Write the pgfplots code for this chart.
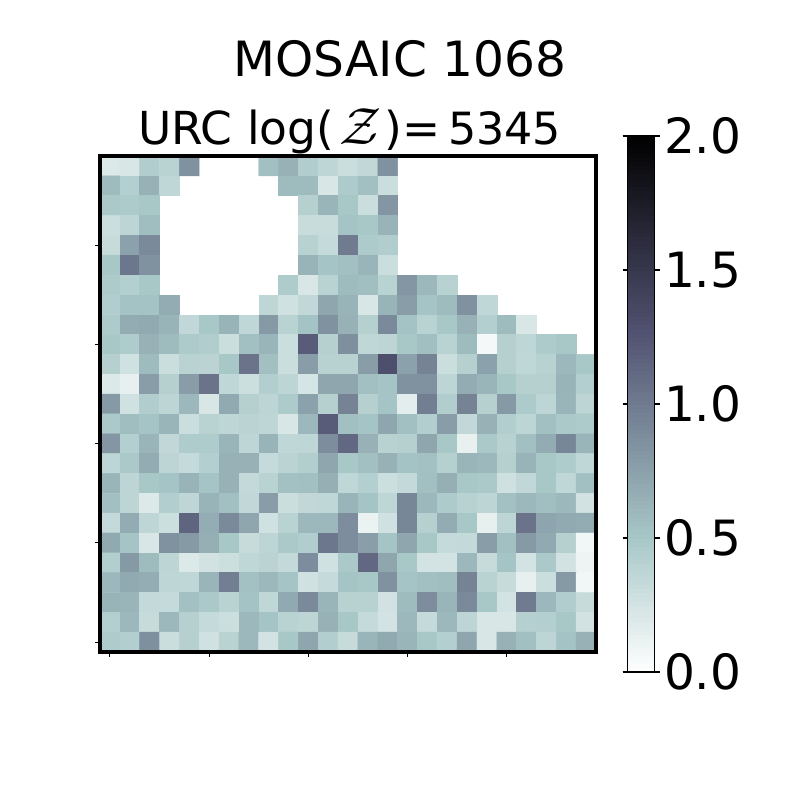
\documentclass[border=0pt]{standalone}
\usepackage{fix-cm}
\usepackage{fontspec}
\setmainfont{DejaVu Sans}
\usepackage{pgfplots}
\pgfplotsset{compat=1.18}
\pgfplotsset{colormap={boner}{
 rgb(0)=(1,1,1);
 rgb(0.253968)=(0.652778,0.777778,0.777778);
 rgb(0.634921)=(0.319444,0.319444,0.444444);
 rgb(1)=(0,0,0)}}
\newcommand{\bigf}{\fontsize{48.6}{58}\selectfont}
\newcommand{\subf}{\fontsize{45.5}{54}\selectfont}
\newcommand{\numf}{\fontsize{44.4}{53}\selectfont}
\begin{document}
\begin{tikzpicture}
\useasboundingbox (0pt,0pt) rectangle (800pt,800pt);
\begin{axis}[
 at={(100pt,148pt)},anchor=south west,
 scale only axis,width=496pt,height=496pt,
 xmin=-0.5,xmax=24.5,ymin=-0.5,ymax=24.5,
 axis on top,
 axis line style={line width=4pt},
 tick align=outside,tick pos=left,
 major tick length=5pt,
 tick style={black,line width=1.1pt},
 xtick={0,5,10,15,20},ytick={0,5,10,15,20},
 xticklabels={},yticklabels={},
 colormap name=boner,
 point meta min=0,point meta max=2,
 colorbar sampled,
 colorbar style={
   at={(1.0635,-0.0403)},anchor=south west,
   width=27pt,height=536pt,
   samples=129,
   ytick={0,0.5,1,1.5,2},
   yticklabels={0.0,0.5,1.0,1.5,2.0},
   yticklabel style={font=\bigf,xshift=1pt},
   axis line style={line width=1.1pt},
   major tick length=5pt,
   tick style={black,line width=1.1pt},
   tick align=outside,
 },
]
\addplot[matrix plot*,point meta=explicit,mesh/cols=25,mesh/ordering=x varies,unbounded coords=jump] coordinates {
(0,24)[.2] (1,24)[.22] (2,24)[.45] (3,24)[.4] (4,24)[.85] (5,24)[nan] (6,24)[nan] (7,24)[nan] (8,24)[.55] (9,24)[.65] (10,24)[.45] (11,24)[.37] (12,24)[.3] (13,24)[.35] (14,24)[.85] (15,24)[nan] (16,24)[nan] (17,24)[nan] (18,24)[nan] (19,24)[nan] (20,24)[nan] (21,24)[nan] (22,24)[nan] (23,24)[nan] (24,24)[nan]
(0,23)[.58] (1,23)[.43] (2,23)[.65] (3,23)[.36] (4,23)[nan] (5,23)[nan] (6,23)[nan] (7,23)[nan] (8,23)[nan] (9,23)[.58] (10,23)[.58] (11,23)[.22] (12,23)[.47] (13,23)[.55] (14,23)[.3] (15,23)[nan] (16,23)[nan] (17,23)[nan] (18,23)[nan] (19,23)[nan] (20,23)[nan] (21,23)[nan] (22,23)[nan] (23,23)[nan] (24,23)[nan]
(0,22)[.48] (1,22)[.47] (2,22)[.5] (3,22)[nan] (4,22)[nan] (5,22)[nan] (6,22)[nan] (7,22)[nan] (8,22)[nan] (9,22)[nan] (10,22)[.42] (11,22)[.62] (12,22)[.5] (13,22)[.3] (14,22)[.82] (15,22)[nan] (16,22)[nan] (17,22)[nan] (18,22)[nan] (19,22)[nan] (20,22)[nan] (21,22)[nan] (22,22)[nan] (23,22)[nan] (24,22)[nan]
(0,21)[.3] (1,21)[.38] (2,21)[.57] (3,21)[nan] (4,21)[nan] (5,21)[nan] (6,21)[nan] (7,21)[nan] (8,21)[nan] (9,21)[nan] (10,21)[.31] (11,21)[.31] (12,21)[.52] (13,21)[.5] (14,21)[.63] (15,21)[nan] (16,21)[nan] (17,21)[nan] (18,21)[nan] (19,21)[nan] (20,21)[nan] (21,21)[nan] (22,21)[nan] (23,21)[nan] (24,21)[nan]
(0,20)[.32] (1,20)[.75] (2,20)[.9] (3,20)[nan] (4,20)[nan] (5,20)[nan] (6,20)[nan] (7,20)[nan] (8,20)[nan] (9,20)[nan] (10,20)[.41] (11,20)[.33] (12,20)[1.0] (13,20)[.47] (14,20)[.45] (15,20)[nan] (16,20)[nan] (17,20)[nan] (18,20)[nan] (19,20)[nan] (20,20)[nan] (21,20)[nan] (22,20)[nan] (23,20)[nan] (24,20)[nan]
(0,19)[.5] (1,19)[1.03] (2,19)[.85] (3,19)[nan] (4,19)[nan] (5,19)[nan] (6,19)[nan] (7,19)[nan] (8,19)[nan] (9,19)[nan] (10,19)[.63] (11,19)[.52] (12,19)[.55] (13,19)[.62] (14,19)[.3] (15,19)[nan] (16,19)[nan] (17,19)[nan] (18,19)[nan] (19,19)[nan] (20,19)[nan] (21,19)[nan] (22,19)[nan] (23,19)[nan] (24,19)[nan]
(0,18)[.47] (1,18)[.43] (2,18)[.5] (3,18)[nan] (4,18)[nan] (5,18)[nan] (6,18)[nan] (7,18)[nan] (8,18)[nan] (9,18)[.46] (10,18)[.22] (11,18)[.4] (12,18)[.58] (13,18)[.56] (14,18)[.4] (15,18)[.82] (16,18)[.6] (17,18)[.41] (18,18)[nan] (19,18)[nan] (20,18)[nan] (21,18)[nan] (22,18)[nan] (23,18)[nan] (24,18)[nan]
(0,17)[.45] (1,17)[.53] (2,17)[.53] (3,17)[.68] (4,17)[nan] (5,17)[nan] (6,17)[nan] (7,17)[nan] (8,17)[.37] (9,17)[.27] (10,17)[.35] (11,17)[.72] (12,17)[.63] (13,17)[.22] (14,17)[.63] (15,17)[.78] (16,17)[.52] (17,17)[.58] (18,17)[.85] (19,17)[.36] (20,17)[nan] (21,17)[nan] (22,17)[nan] (23,17)[nan] (24,17)[nan]
(0,16)[.47] (1,16)[.68] (2,16)[.7] (3,16)[.63] (4,16)[.35] (5,16)[.5] (6,16)[.63] (7,16)[.36] (8,16)[.8] (9,16)[.4] (10,16)[.53] (11,16)[.85] (12,16)[.65] (13,16)[.42] (14,16)[.9] (15,16)[.53] (16,16)[.4] (17,16)[.5] (18,16)[.65] (19,16)[.43] (20,16)[.58] (21,16)[.22] (22,16)[nan] (23,16)[nan] (24,16)[nan]
(0,15)[.5] (1,15)[.46] (2,15)[.65] (3,15)[.58] (4,15)[.47] (5,15)[.45] (6,15)[.3] (7,15)[.55] (8,15)[.62] (9,15)[.3] (10,15)[1.2] (11,15)[.42] (12,15)[.87] (13,15)[.36] (14,15)[.38] (15,15)[.5] (16,15)[.56] (17,15)[.4] (18,15)[.58] (19,15)[.06] (20,15)[.42] (21,15)[.37] (22,15)[.47] (23,15)[.5] (24,15)[nan]
(0,14)[.42] (1,14)[.27] (2,14)[.58] (3,14)[.3] (4,14)[.4] (5,14)[.39] (6,14)[.5] (7,14)[1.05] (8,14)[.55] (9,14)[.3] (10,14)[.78] (11,14)[.41] (12,14)[.41] (13,14)[.78] (14,14)[1.3] (15,14)[.75] (16,14)[.95] (17,14)[.3] (18,14)[.42] (19,14)[.75] (20,14)[.42] (21,14)[.36] (22,14)[.41] (23,14)[.6] (24,14)[.5]
(0,13)[.2] (1,13)[.14] (2,13)[.78] (3,13)[.42] (4,13)[.78] (5,13)[1.05] (6,13)[.36] (7,13)[.29] (8,13)[.44] (9,13)[.38] (10,13)[.24] (11,13)[.72] (12,13)[.72] (13,13)[.55] (14,13)[.52] (15,13)[.85] (16,13)[.85] (17,13)[.38] (18,13)[.68] (19,13)[.62] (20,13)[.5] (21,13)[.42] (22,13)[.42] (23,13)[.63] (24,13)[.43]
(0,12)[.8] (1,12)[.27] (2,12)[.45] (3,12)[.38] (4,12)[.6] (5,12)[.22] (6,12)[.7] (7,12)[.42] (8,12)[.38] (9,12)[.47] (10,12)[.75] (11,12)[.42] (12,12)[.95] (13,12)[.42] (14,12)[.52] (15,12)[.16] (16,12)[.98] (17,12)[.45] (18,12)[.95] (19,12)[.42] (20,12)[.8] (21,12)[.47] (22,12)[.38] (23,12)[.62] (24,12)[.38]
(0,11)[.48] (1,11)[.57] (2,11)[.52] (3,11)[.62] (4,11)[.3] (5,11)[.4] (6,11)[.37] (7,11)[.39] (8,11)[.37] (9,11)[.22] (10,11)[.6] (11,11)[1.2] (12,11)[.55] (13,11)[.52] (14,11)[.72] (15,11)[.55] (16,11)[.44] (17,11)[.78] (18,11)[.35] (19,11)[.65] (20,11)[.44] (21,11)[.38] (22,11)[.55] (23,11)[.48] (24,11)[.47]
(0,10)[.82] (1,10)[.43] (2,10)[.62] (3,10)[.35] (4,10)[.46] (5,10)[.46] (6,10)[.62] (7,10)[.37] (8,10)[.63] (9,10)[.36] (10,10)[.37] (11,10)[.88] (12,10)[1.12] (13,10)[.65] (14,10)[.41] (15,10)[.42] (16,10)[.72] (17,10)[.5] (18,10)[.13] (19,10)[.48] (20,10)[.41] (21,10)[.55] (22,10)[.68] (23,10)[.92] (24,10)[.62]
(0,9)[.38] (1,9)[.48] (2,9)[.68] (3,9)[.38] (4,9)[.33] (5,9)[.43] (6,9)[.65] (7,9)[.65] (8,9)[.33] (9,9)[.39] (10,9)[.44] (11,9)[.72] (12,9)[.5] (13,9)[.55] (14,9)[.65] (15,9)[.53] (16,9)[.54] (17,9)[.42] (18,9)[.62] (19,9)[.6] (20,9)[.42] (21,9)[.63] (22,9)[.5] (23,9)[.46] (24,9)[.36]
(0,8)[.62] (1,8)[.38] (2,8)[.5] (3,8)[.52] (4,8)[.63] (5,8)[.52] (6,8)[.65] (7,8)[.34] (8,8)[.4] (9,8)[.54] (10,8)[.55] (11,8)[.66] (12,8)[.36] (13,8)[.43] (14,8)[.29] (15,8)[.34] (16,8)[.55] (17,8)[.66] (18,8)[.5] (19,8)[.48] (20,8)[.28] (21,8)[.35] (22,8)[.5] (23,8)[.36] (24,8)[.55]
(0,7)[.55] (1,7)[.38] (2,7)[.2] (3,7)[.44] (4,7)[.37] (5,7)[.63] (6,7)[.55] (7,7)[.35] (8,7)[.78] (9,7)[.3] (10,7)[.35] (11,7)[.36] (12,7)[.62] (13,7)[.52] (14,7)[.37] (15,7)[.92] (16,7)[.6] (17,7)[.47] (18,7)[.41] (19,7)[.38] (20,7)[.54] (21,7)[.6] (22,7)[.56] (23,7)[.6] (24,7)[.26]
(0,6)[.34] (1,6)[.68] (2,6)[.37] (3,6)[.29] (4,6)[1.15] (5,6)[.67] (6,6)[.9] (7,6)[.72] (8,6)[.27] (9,6)[.4] (10,6)[.6] (11,6)[.6] (12,6)[.88] (13,6)[.12] (14,6)[.27] (15,6)[.92] (16,6)[.42] (17,6)[.68] (18,6)[.5] (19,6)[.14] (20,6)[.38] (21,6)[1.05] (22,6)[.73] (23,6)[.7] (24,6)[.68]
(0,5)[.7] (1,5)[.52] (2,5)[.22] (3,5)[.85] (4,5)[.8] (5,5)[.66] (6,5)[.5] (7,5)[.32] (8,5)[.38] (9,5)[.48] (10,5)[.45] (11,5)[1.03] (12,5)[.88] (13,5)[.77] (14,5)[.52] (15,5)[.72] (16,5)[.5] (17,5)[.33] (18,5)[.34] (19,5)[.78] (20,5)[.55] (21,5)[.8] (22,5)[.7] (23,5)[.42] (24,5)[.08]
(0,4)[.44] (1,4)[.8] (2,4)[.58] (3,4)[.38] (4,4)[.2] (5,4)[.26] (6,4)[.29] (7,4)[.36] (8,4)[.39] (9,4)[.34] (10,4)[.88] (11,4)[.27] (12,4)[.48] (13,4)[1.12] (14,4)[.72] (15,4)[.5] (16,4)[.25] (17,4)[.25] (18,4)[.6] (19,4)[.32] (20,4)[.52] (21,4)[.25] (22,4)[.48] (23,4)[.26] (24,4)[.1]
(0,3)[.6] (1,3)[.7] (2,3)[.67] (3,3)[.37] (4,3)[.36] (5,3)[.62] (6,3)[.98] (7,3)[.54] (8,3)[.6] (9,3)[.52] (10,3)[.27] (11,3)[.33] (12,3)[.52] (13,3)[.5] (14,3)[.85] (15,3)[.52] (16,3)[.55] (17,3)[.57] (18,3)[.95] (19,3)[.4] (20,3)[.32] (21,3)[.14] (22,3)[.3] (23,3)[.8] (24,3)[.08]
(0,2)[.63] (1,2)[.62] (2,2)[.34] (3,2)[.33] (4,2)[.54] (5,2)[.48] (6,2)[.4] (7,2)[.53] (8,2)[.36] (9,2)[.7] (10,2)[.9] (11,2)[.62] (12,2)[.41] (13,2)[.41] (14,2)[.26] (15,2)[.58] (16,2)[.88] (17,2)[.62] (18,2)[.9] (19,2)[.5] (20,2)[.25] (21,2)[1.0] (22,2)[.6] (23,2)[.45] (24,2)[.32]
(0,1)[.43] (1,1)[.6] (2,1)[.32] (3,1)[.6] (4,1)[.42] (5,1)[.33] (6,1)[.29] (7,1)[.6] (8,1)[.52] (9,1)[.4] (10,1)[.38] (11,1)[.65] (12,1)[.5] (13,1)[.33] (14,1)[.25] (15,1)[.6] (16,1)[.33] (17,1)[.6] (18,1)[.38] (19,1)[.22] (20,1)[.22] (21,1)[.42] (22,1)[.43] (23,1)[.5] (24,1)[.26]
(0,0)[.46] (1,0)[.44] (2,0)[.87] (3,0)[.3] (4,0)[.42] (5,0)[.27] (6,0)[.4] (7,0)[.6] (8,0)[.25] (9,0)[.5] (10,0)[.72] (11,0)[.44] (12,0)[.32] (13,0)[.62] (14,0)[.7] (15,0)[.62] (16,0)[.5] (17,0)[.43] (18,0)[.72] (19,0)[.22] (20,0)[.65] (21,0)[.55] (22,0)[.38] (23,0)[.53] (24,0)[.65]
};
\end{axis}
\node[anchor=base,inner sep=0pt] at (400pt,723pt) {\bigf MOSAIC 1068};
\node[anchor=base west,inner sep=0pt] at (138pt,655pt) {\subf URC log(\hspace{5pt}\scalebox{1.15}{$\mathcal{Z}$}\hspace{3pt})\hspace{1pt}=\hspace{7pt}{\numf 5345}};
\end{tikzpicture}
\end{document}
